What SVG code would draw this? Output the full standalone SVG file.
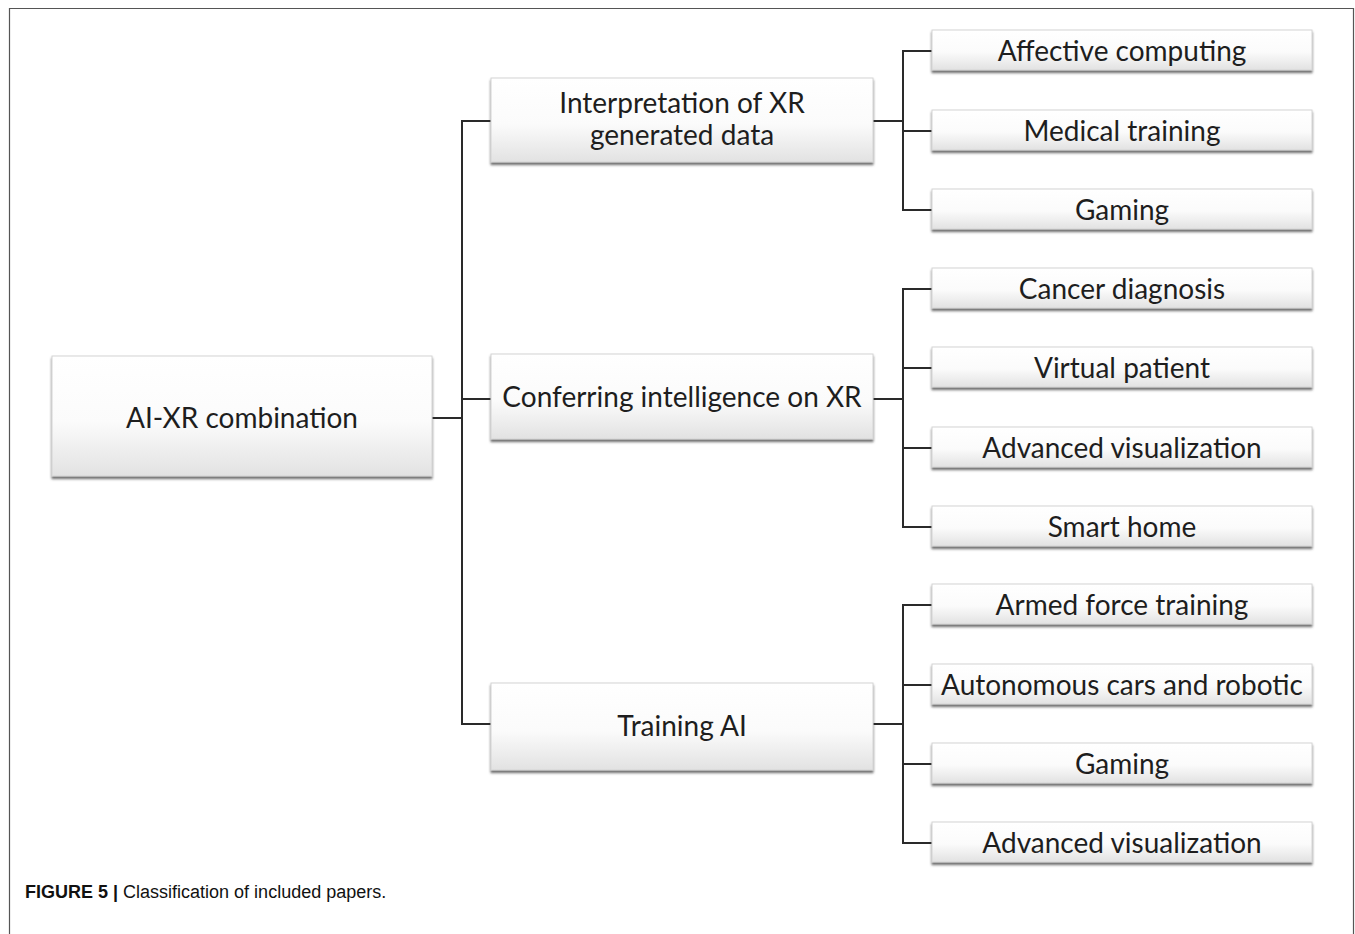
<svg xmlns="http://www.w3.org/2000/svg" width="1355" height="934" viewBox="0 0 1355 934">
<style>
.box{fill:url(#g);stroke:#d4d4d4;stroke-width:1;filter:url(#sh)}
.t{font-family:Lato,"Open Sans",sans-serif;font-size:28px;fill:#1e1e1e;text-anchor:middle}
.c{stroke:#2a2a2a;stroke-width:2;fill:none}
.cap{font-family:"Liberation Sans",Arial,sans-serif;font-size:18px;fill:#111}
</style>
<defs>
<linearGradient id="g" x1="0" y1="0" x2="0" y2="1">
<stop offset="0" stop-color="#ffffff"/>
<stop offset="0.55" stop-color="#fbfbfb"/>
<stop offset="1" stop-color="#e2e2e2"/>
</linearGradient>
<filter id="sh" x="-5%" y="-10%" width="110%" height="130%">
<feDropShadow dx="0" dy="2.5" stdDeviation="1.3" flood-color="#3a3a3a" flood-opacity="0.75"/>
</filter>
</defs>
<rect x="0" y="0" width="1355" height="934" fill="#fff"/>
<path d="M9.5 940 V8.5 H1353.5 V940" fill="none" stroke="#555" stroke-width="1.2"/>

<g id="connectors">
<path class="c" d="M491 121 H462 V724 H491 M462 399 H491"/>
<path class="c" d="M432 418 H462" stroke-width="2.5"/>
<path class="c" d="M873 121 H903 M932 51 H903 V210 H932 M903 131 H932"/>
<path class="c" d="M873 399 H903" stroke-width="2.5"/>
<path class="c" d="M932 289 H903 V527 H932 M903 368 H932 M903 448 H932"/>
<path class="c" d="M873 724 H903" stroke-width="2.5"/>
<path class="c" d="M932 605 H903 V843 H932 M903 685 H932 M903 764 H932"/>
</g>

<g id="root"><rect class="box" x="52" y="356" width="380" height="120"/><text class="t" x="242" y="428">AI-XR combination</text></g>

<g id="interp"><rect class="box" x="491" y="78" width="382" height="84"/><text class="t" x="682" y="113">Interpretation of XR</text><text class="t" x="682" y="145">generated data</text></g>
<g id="conferring"><rect class="box" x="491" y="354" width="382" height="85"/><text class="t" x="682" y="407">Conferring intelligence on XR</text></g>
<g id="training"><rect class="box" x="491" y="683" width="382" height="87"/><text class="t" x="682" y="736">Training AI</text></g>

<g id="l1"><rect class="box" x="932" y="30" width="380" height="40"/><text class="t" x="1122" y="61">Affective computing</text></g>
<g id="l2"><rect class="box" x="932" y="110" width="380" height="40"/><text class="t" x="1122" y="141">Medical training</text></g>
<g id="l3"><rect class="box" x="932" y="189" width="380" height="40"/><text class="t" x="1122" y="220">Gaming</text></g>
<g id="l4"><rect class="box" x="932" y="268" width="380" height="40"/><text class="t" x="1122" y="299">Cancer diagnosis</text></g>
<g id="l5"><rect class="box" x="932" y="347" width="380" height="40"/><text class="t" x="1122" y="378">Virtual patient</text></g>
<g id="l6"><rect class="box" x="932" y="427" width="380" height="40"/><text class="t" x="1122" y="458">Advanced visualization</text></g>
<g id="l7"><rect class="box" x="932" y="506" width="380" height="40"/><text class="t" x="1122" y="537">Smart home</text></g>
<g id="l8"><rect class="box" x="932" y="584" width="380" height="40"/><text class="t" x="1122" y="615">Armed force training</text></g>
<g id="l9"><rect class="box" x="932" y="664" width="380" height="40"/><text class="t" x="1122" y="695">Autonomous cars and robotic</text></g>
<g id="l10"><rect class="box" x="932" y="743" width="380" height="40"/><text class="t" x="1122" y="774">Gaming</text></g>
<g id="l11"><rect class="box" x="932" y="822" width="380" height="40"/><text class="t" x="1122" y="853">Advanced visualization</text></g>

<text class="cap" x="25" y="898"><tspan font-weight="bold">FIGURE 5 | </tspan>Classification of included papers.</text>
</svg>
